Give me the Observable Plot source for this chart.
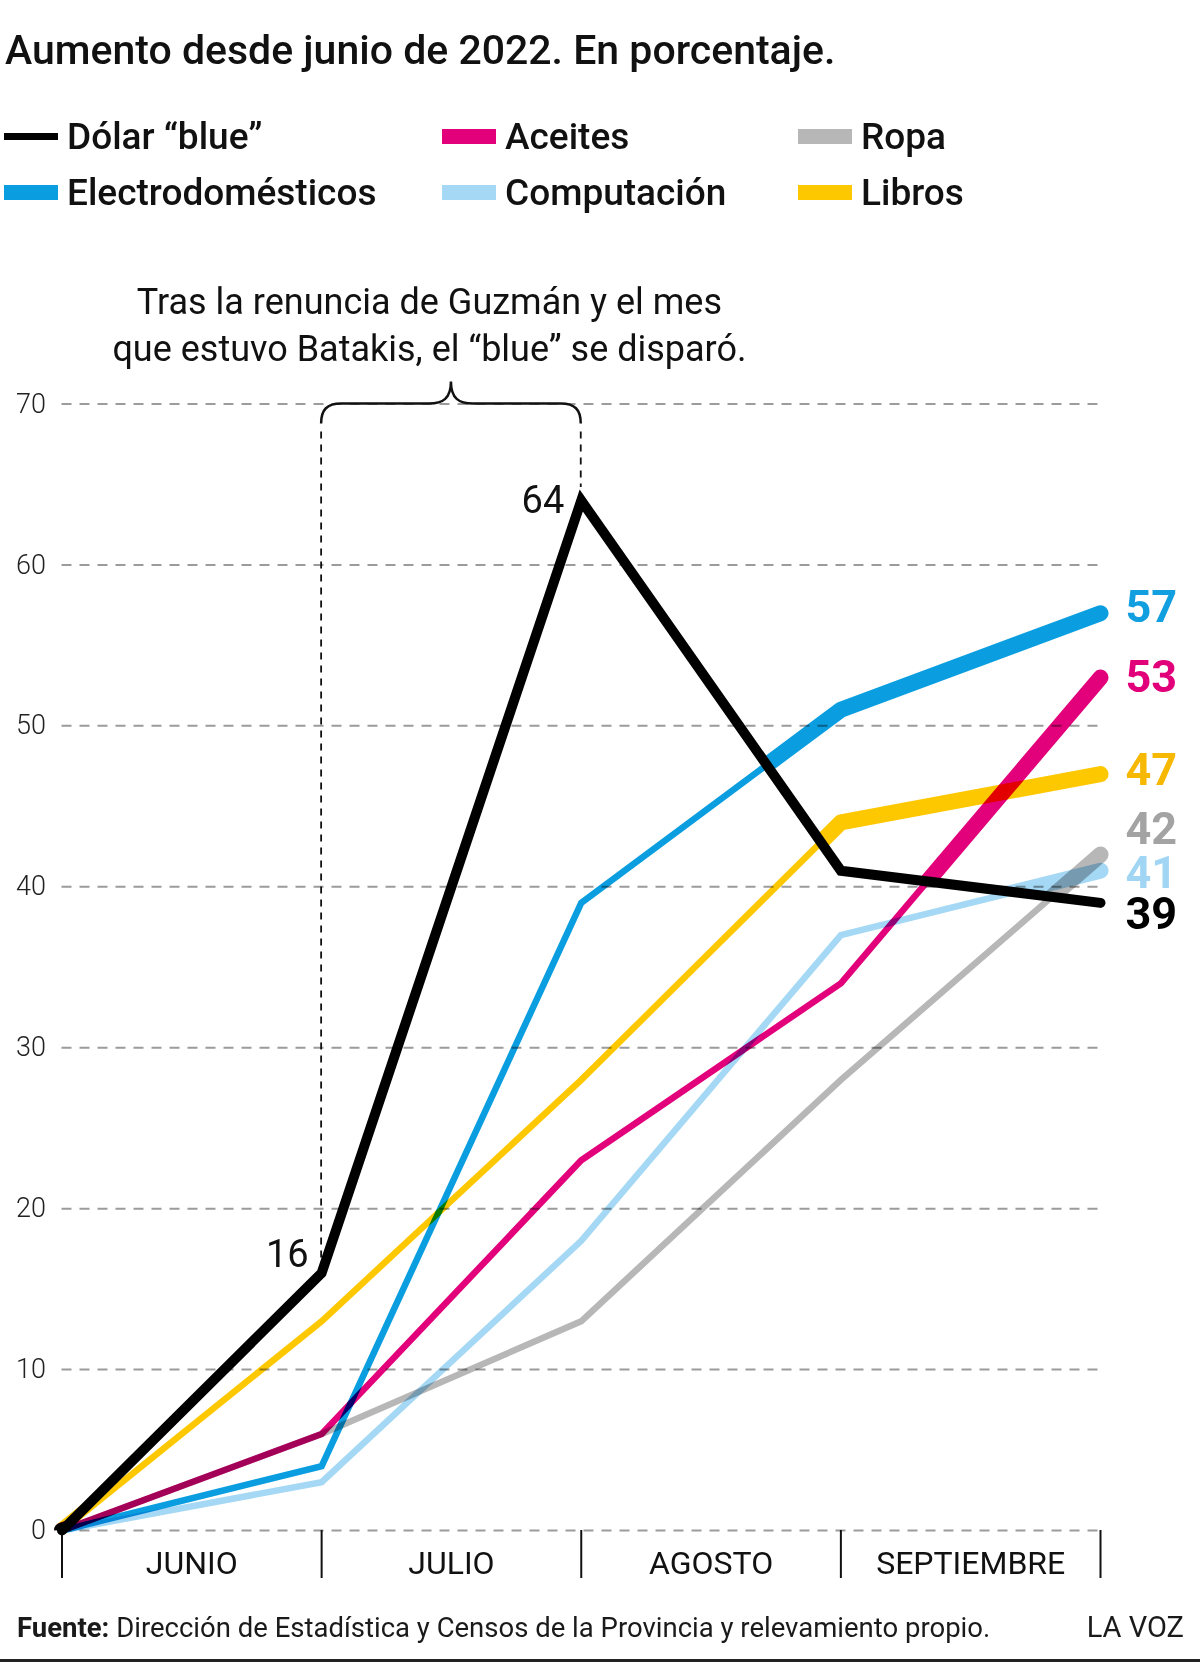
<!DOCTYPE html>
<html lang="es">
<head>
<meta charset="utf-8">
<title>Aumento desde junio de 2022</title>
<script src="https://cdn.jsdelivr.net/npm/d3@7"></script>
<script src="https://cdn.jsdelivr.net/npm/@observablehq/plot@0.6"></script>
<style>
  html, body { margin: 0; padding: 0; background: #fff; }
  body {
    width: 1200px; height: 1666px; position: relative; overflow: hidden;
    font-family: Roboto, "Liberation Sans", sans-serif; color: #111;
  }
  .titulo { position: absolute; left: 5px; top: 30px; font-size: 41px; line-height: 41px; font-weight: 500; white-space: nowrap; }
  .item { position: absolute; display: flex; align-items: center; font-size: 37px; line-height: 37px; font-weight: 500; white-space: nowrap; }
  .muestra { display: inline-block; width: 54px; margin-right: 9px; }
  #grafico { position: absolute; left: 0; top: 220px; }
  #grafico svg { display: block; }
  .fuente { position: absolute; left: 17px; top: 1614px; font-size: 27.5px; line-height: 28px; white-space: nowrap; color: #1a1a1a; }
  .fuente b { font-weight: 700; }
  .firma { position: absolute; right: 16px; top: 1613px; font-size: 29px; line-height: 29px; color: #1a1a1a; }
  .regla { position: absolute; left: 0; width: 1200px; top: 1659px; height: 3px; background: #222; }
</style>
</head>
<body>
<div class="titulo">Aumento desde junio de 2022. En porcentaje.</div>
<div id="leyenda"></div>
<div id="grafico"></div>
<div class="fuente"><b>Fuente:</b> Dirección de Estadística y Censos de la Provincia y relevamiento propio.</div>
<div class="firma">LA VOZ</div>
<div class="regla"></div>
<script>
// ---- Datos: aumento acumulado desde junio de 2022, en porcentaje ----
const meses = ["JUNIO", "JULIO", "AGOSTO", "SEPTIEMBRE"];
const puntos = [0, 1, 2, 3, 4]; // comienzo de junio y cierre de cada mes
const series = ["Dólar “blue”", "Electrodomésticos", "Aceites", "Computación", "Ropa", "Libros"];
const dolarBlue = [0, 16, 64, 41, 39];
const electrodomesticos = [0, 4, 39, 51, 57];
const aceites = [0, 6, 23, 34, 53];
const computacion = [0, 3, 18, 37, 41];
const ropa = [0, 6, 13, 28, 42];
const libros = [0, 13, 28, 44, 47];
const yTicks = [0, 10, 20, 30, 40, 50, 60, 70];
const nota = "Tras la renuncia de Guzmán y el mes\nque estuvo Batakis, el “blue” se disparó.";

// ---- Estilo ----
const colores = ["#000000", "#0a9ee0", "#e3007b", "#a4d8f5", "#b7b7b7", "#fec800"];
const coloresEtiqueta = ["#000000", "#129fe0", "#e2007a", "#a0d5f3", "#a3a3a3", "#f6b800"];
const desplazamiento = [12, -6, 0, 3, -25, -4]; // ajuste vertical de las cifras finales
const fuente = "Roboto, 'Liberation Sans', sans-serif";

const valores = [dolarBlue, electrodomesticos, aceites, computacion, ropa, libros];
const filas = (k) => valores[k].map((v, i) => ({serie: series[k], t: puntos[i], v}));
const filasDolar = filas(0);
const filasResto = series.slice(1).flatMap((_, j) => filas(j + 1));

// ---- Leyenda (tres columnas, dos filas) ----
const leyenda = document.getElementById("leyenda");
const columnas = [4, 442, 798];
const renglones = [118, 174];
series.forEach((s, k) => {
  const item = document.createElement("div");
  item.className = "item";
  item.style.left = columnas[Math.floor(k / 2)] + "px";
  item.style.top = renglones[k % 2] + "px";
  const m = document.createElement("span");
  m.className = "muestra";
  m.style.background = colores[k];
  m.style.height = (k === 0 ? 7 : 15) + "px";
  item.appendChild(m);
  item.appendChild(document.createTextNode(s));
  leyenda.appendChild(item);
});

// ---- Gráfico ----
const W = 1200, H = 1380;
const chart = Plot.plot({
  width: W,
  height: H,
  marginTop: 183.5,
  marginBottom: 70,
  marginLeft: 61.5,
  marginRight: 100,
  x: {domain: [0, 4], axis: null},
  y: {domain: [0, 70], axis: null},
  color: {domain: series, range: colores},
  style: {fontFamily: fuente, background: "transparent", color: "#111"},
  marks: [
    Plot.ruleY(yTicks, {x1: 0, x2: 4, y: d => d, stroke: "#9b9b9b", strokeWidth: 2, strokeDasharray: "10,8"}),
    Plot.text(yTicks, {x: 0, y: d => d, text: d => String(d), textAnchor: "end", dx: -16, fontSize: 27, fontWeight: 300, fill: "#222"}),
    Plot.ruleX(puntos, {x: d => d, y1: 0, y2: 0, insetTop: 48, stroke: "#111", strokeWidth: 2}),
    Plot.text(meses, {x: (d, i) => i + 0.5, y: 0, dy: 33, text: d => d, fontSize: 32, fill: "#111"}),
    Plot.text([nota], {x: 1.5, y: 70, dx: -22, dy: -43.5, text: d => d, lineAnchor: "bottom", lineHeight: 1.29, fontSize: 36, fill: "#111"}),
    Plot.line(filasResto, {x: "t", y: "v", z: "serie", stroke: "serie", strokeWidth: 6.5,
      strokeLinejoin: "miter", strokeMiterlimit: 4, strokeLinecap: "round", ariaDescription: "tramo-fino"}),
    Plot.line(filasResto, {x: "t", y: "v", z: "serie", stroke: "serie", strokeWidth: 16,
      strokeLinejoin: "round", strokeLinecap: "round", ariaDescription: "tramo-grueso"}),
    Plot.line(filasDolar, {x: "t", y: "v", stroke: colores[0], strokeWidth: 10,
      strokeLinejoin: "miter", strokeMiterlimit: 4, strokeLinecap: "round"}),
    Plot.text([1], {x: d => d, y: d => dolarBlue[d], text: d => String(dolarBlue[d]), textAnchor: "end", dx: -13, dy: -18, fontSize: 38, fill: "#111"}),
    Plot.text([2], {x: d => d, y: d => dolarBlue[d], text: d => String(dolarBlue[d]), textAnchor: "end", dx: -17, dy: 0, fontSize: 38, fill: "#111"}),
    ...series.map((s, k) => Plot.text([k], {
      x: 4, y: d => valores[d][4], text: d => String(valores[d][4]),
      textAnchor: "start", dx: 25, dy: desplazamiento[k], fontSize: 45, fontWeight: 700, fill: coloresEtiqueta[k]
    }))
  ]
});
document.getElementById("grafico").appendChild(chart);

// ---- Tramos gruesos donde la serie supera al dólar "blue" ----
const sx = chart.scale("x"), sy = chart.scale("y");
const P = dolarBlue.map((v, i) => [sx.apply(puntos[i]), sy.apply(v)]);
const ruta = P.map(p => p.join(",")).join(" L");
const yFin = P[P.length - 1][1];
const svg = d3.select(chart);
const defs = svg.insert("defs", ":first-child");
defs.append("clipPath").attr("id", "zona-arriba").append("path")
  .attr("d", `M0,${P[0][1]} L${ruta} L${W},${yFin} L${W},-10 L0,-10 Z`);
defs.append("clipPath").attr("id", "zona-abajo").append("path")
  .attr("d", `M0,${P[0][1]} L${ruta} L${W},${yFin} L${W},${H + 10} L0,${H + 10} Z`);
svg.selectAll('g[aria-description="tramo-fino"] path').attr("clip-path", "url(#zona-abajo)");
svg.selectAll('g[aria-description="tramo-grueso"] path').attr("clip-path", "url(#zona-arriba)");
svg.selectAll('g[aria-description="tramo-fino"] path, g[aria-description="tramo-grueso"] path')
  .style("mix-blend-mode", "multiply");

// ---- Llave y guías del período Guzmán–Batakis ----
const xa = sx.apply(1), xb = sx.apply(2), xm = (xa + xb) / 2, yb = sy.apply(70);
const anot = svg.append("g").attr("fill", "none").attr("stroke", "#111");
anot.append("path").attr("stroke-width", 2.5)
  .attr("d", `M${xa},${yb + 20} C${xa},${yb + 6} ${xa + 6},${yb} ${xa + 20},${yb} L${xm - 22},${yb}` +
             ` C${xm - 8},${yb} ${xm},${yb - 5} ${xm},${yb - 22} C${xm},${yb - 5} ${xm + 8},${yb} ${xm + 22},${yb}` +
             ` L${xb - 20},${yb} C${xb - 6},${yb} ${xb},${yb + 6} ${xb},${yb + 20}`);
anot.append("line").attr("stroke-width", 1.8).attr("stroke-dasharray", "7,6")
  .attr("x1", xa).attr("x2", xa).attr("y1", yb + 28).attr("y2", sy.apply(dolarBlue[1]) - 15);
anot.append("line").attr("stroke-width", 1.8).attr("stroke-dasharray", "7,6")
  .attr("x1", xb).attr("x2", xb).attr("y1", yb + 28).attr("y2", sy.apply(dolarBlue[2]) - 13);
</script>
</body>
</html>
